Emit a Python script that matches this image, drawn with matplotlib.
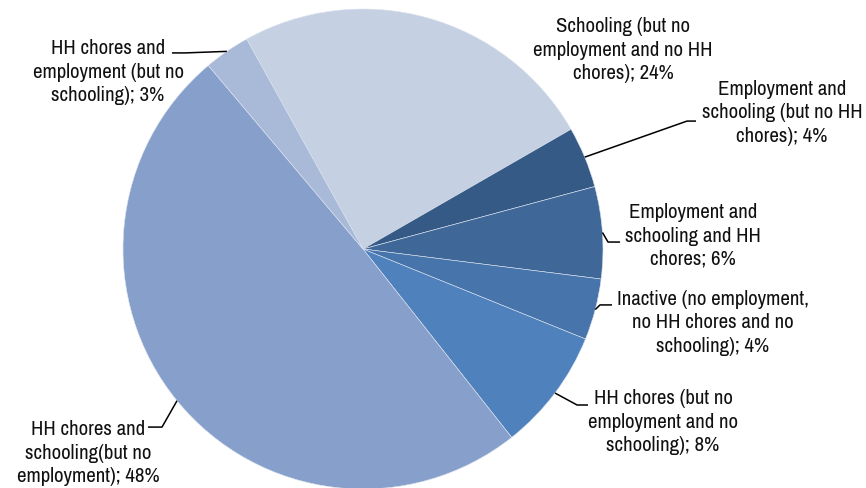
import matplotlib

matplotlib.use("Agg")
import matplotlib.pyplot as plt
import numpy as np

# Time-use categories, clockwise from the top
labels = [
    "Schooling (but no\nemployment and no HH\nchores)",
    "Employment and\nschooling (but no HH\nchores)",
    "Employment and\nschooling and HH\nchores",
    "Inactive (no employment,\nno HH chores and no\nschooling)",
    "HH chores (but no\nemployment and no\nschooling)",
    "HH chores and\nschooling(but no\nemployment)",
    "HH chores and\nemployment (but no\nschooling)",
]
shares = [24, 4, 6, 4, 8, 48, 3]
colors = ["#C5D0E3", "#355A86", "#3F6899", "#4674AB", "#4F81BD", "#86A0CB", "#A9B9D8"]

# label text centre, leader elbow and leader end (None = no leader line)
label_xy = [(1.083, 0.829), (1.746, 0.567), (1.375, 0.054), (1.458, -0.308),
            (1.25, -0.721), (-1.146, -0.85), (-1.0625, 0.7375)]
elbow_xy = [None, (1.35, 0.533), (1.021, 0.029), (0.9875, -0.233),
            (0.892, -0.65), (-0.8375, -0.742), (-0.742, 0.817)]
end_xy = [None, (1.3875, 0.533), (1.071, 0.029), (1.0375, -0.233),
          (0.9375, -0.65), (-0.896, -0.742), (-0.796, 0.817)]

plt.rcParams["font.family"] = ["Archivo Narrow", "Liberation Sans", "DejaVu Sans"]

fig = plt.figure(figsize=(8.66, 4.88), dpi=100)
ax = fig.add_axes([0, 0, 1, 1])
wedges, _ = ax.pie(shares, colors=colors, startangle=119, counterclock=False,
                   radius=1.0, center=(0, 0),
                   wedgeprops=dict(edgecolor="#dde4ef", linewidth=0.4))

for w, lab, pct, txy, exy, nxy in zip(wedges, labels, shares, label_xy, elbow_xy, end_xy):
    ax.text(txy[0], txy[1], f"{lab}; {pct}%", ha="center", va="center",
            multialignment="center", fontsize=15, linespacing=1.28, color="#111111")
    if exy is None:
        continue
    mid = np.deg2rad((w.theta1 + w.theta2) / 2)
    ax.plot([np.cos(mid), exy[0], nxy[0]], [np.sin(mid), exy[1], nxy[1]],
            color="black", lw=1.1, solid_capstyle="butt")

ax.set_xlim(-1.5125, 2.0958)
ax.set_ylim(-0.9958, 1.0375)
ax.set_aspect("equal")
ax.axis("off")

fig.savefig("out.png", dpi=100)
